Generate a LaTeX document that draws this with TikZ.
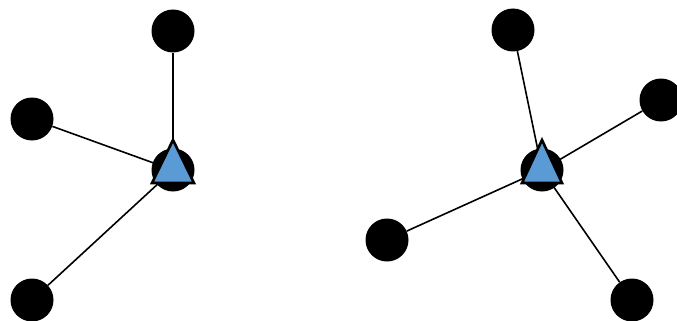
\documentclass[tikz,border=0pt]{standalone}
\begin{document}
\begin{tikzpicture}[x=1pt,y=-1pt,
  dot/.style={circle,fill=black,inner sep=0pt,minimum size=43pt},
  edge/.style={line width=1.6pt,black},
  tri/.style={fill=triblue,draw=black,line width=2.6pt,line join=miter}]
\definecolor{triblue}{HTML}{5B9BD5}
\useasboundingbox (0,0) rectangle (677,321);
% left star
\node[dot] (lc) at (173,170) {};
\node[dot] (l1) at (173,31) {};
\node[dot] (l2) at (32,119) {};
\node[dot] (l3) at (32,300) {};
\draw[edge] (lc.center) -- (l1);
\draw[edge] (lc.center) -- (l2);
\draw[edge] (lc.center) -- (l3);
\draw[tri] ([shift={(0,-30)}]lc.center) -- ([shift={(21,13)}]lc.center) -- ([shift={(-21,13)}]lc.center) -- cycle;
% right star
\node[dot] (rc) at (542,170) {};
\node[dot] (r1) at (513,30) {};
\node[dot] (r2) at (661,100) {};
\node[dot] (r3) at (387,240) {};
\node[dot] (r4) at (632,300) {};
\draw[edge] (rc.center) -- (r1);
\draw[edge] (rc.center) -- (r2);
\draw[edge] (rc.center) -- (r3);
\draw[edge] (rc.center) -- (r4);
\draw[tri] ([shift={(0,-30)}]rc.center) -- ([shift={(20,13)}]rc.center) -- ([shift={(-20,13)}]rc.center) -- cycle;
\end{tikzpicture}
\end{document}
